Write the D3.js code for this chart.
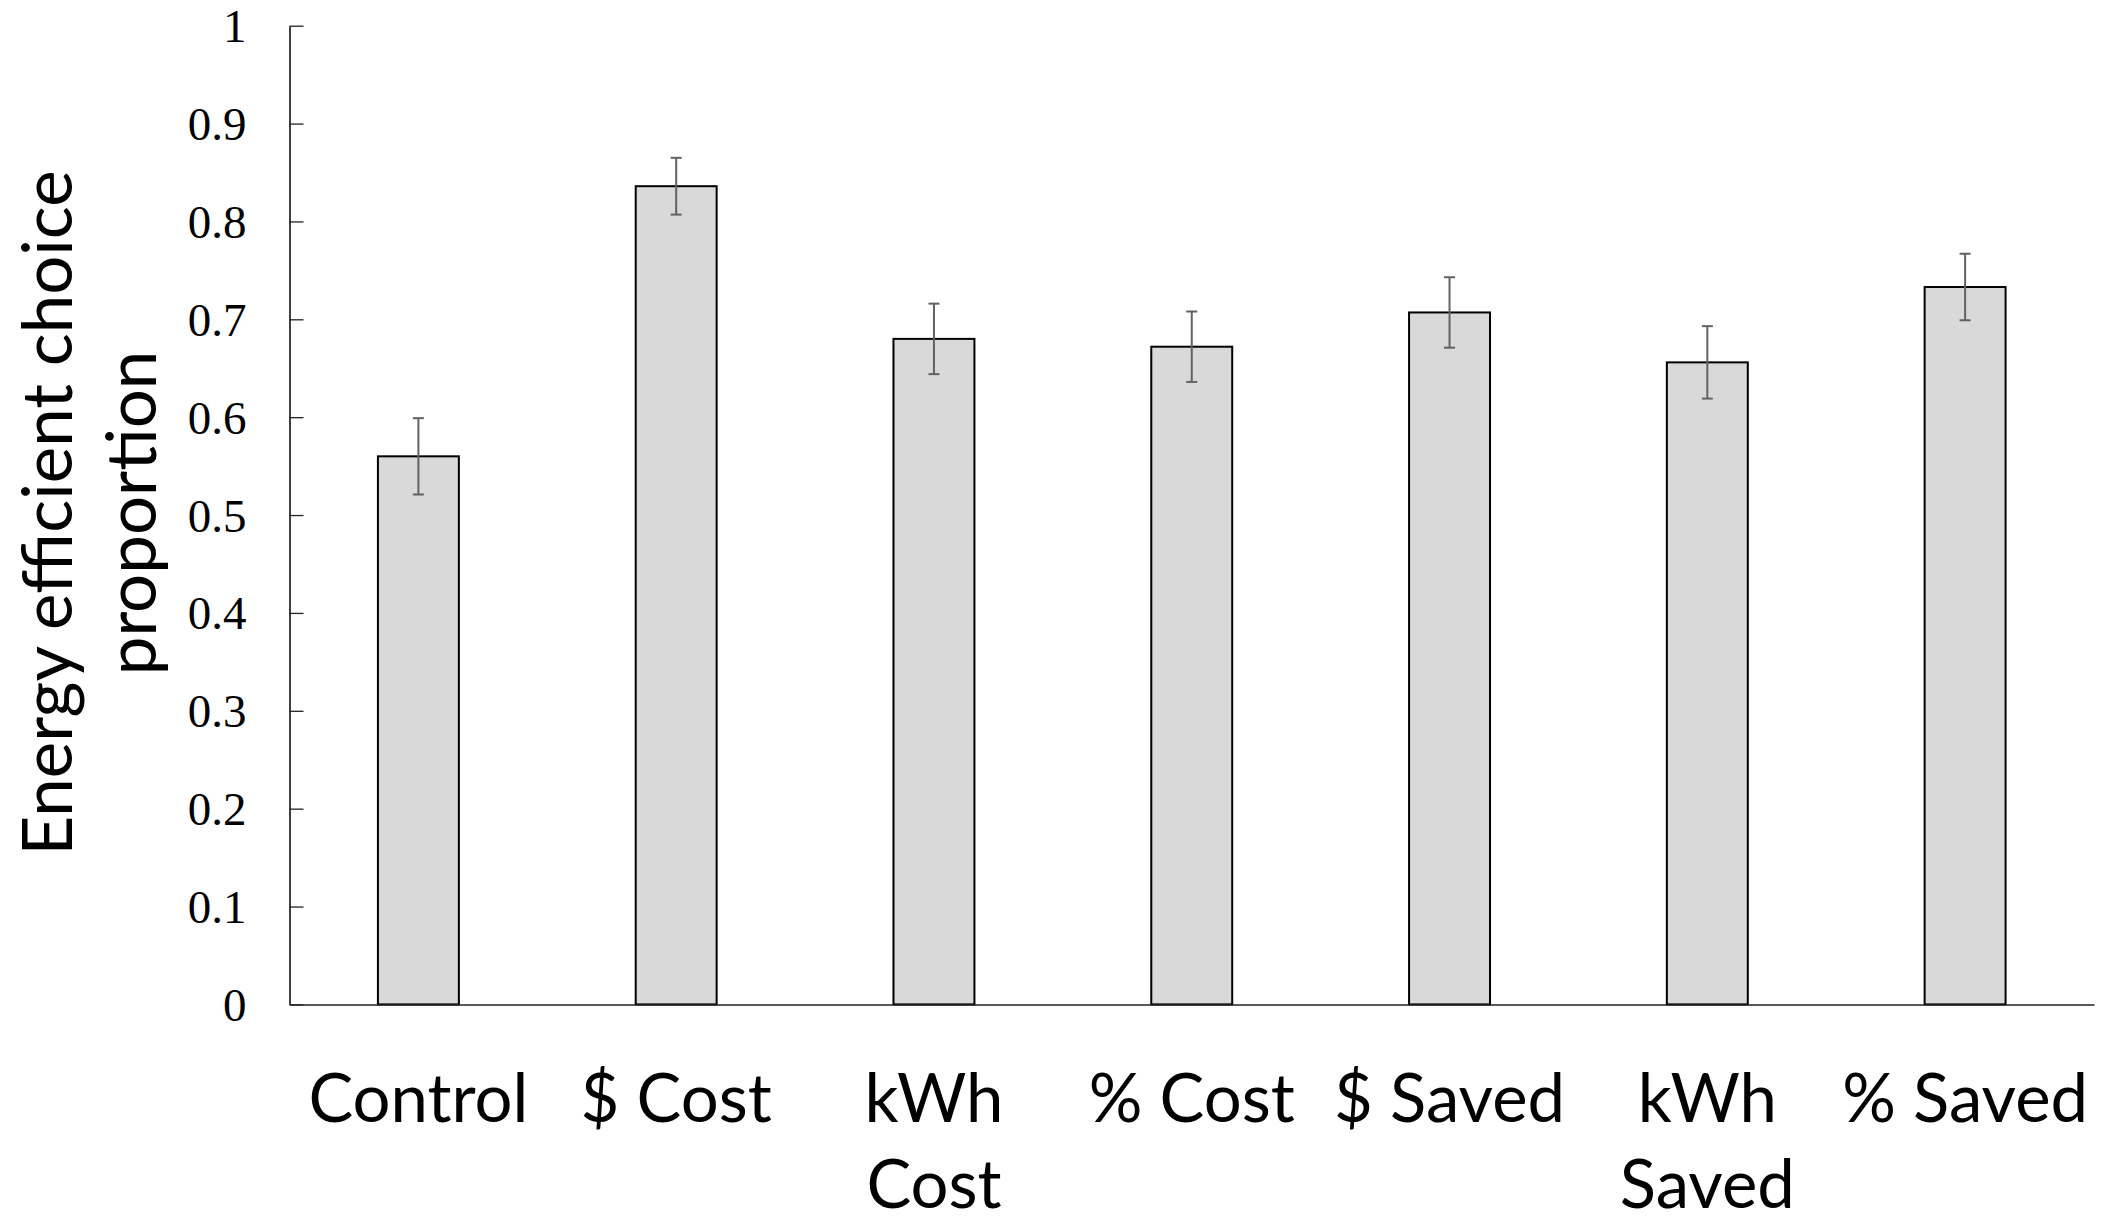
<!DOCTYPE html>
<html>
<head>
<meta charset="utf-8">
<script src="https://cdn.jsdelivr.net/npm/d3@7"></script>
<style>
  html, body { margin: 0; padding: 0; background: #fff; }
  svg { display: block; }
</style>
</head>
<body>
<script>
// ---- data ----
const categories = ["Control", "$ Cost", "kWh Cost", "% Cost", "$ Saved", "kWh Saved", "% Saved"];
const categoryLabelLines = [["Control"], ["$ Cost"], ["kWh", "Cost"], ["% Cost"], ["$ Saved"], ["kWh", "Saved"], ["% Saved"]];
const proportions = [0.560, 0.836, 0.680, 0.672, 0.707, 0.656, 0.733];
const errors = [0.039, 0.029, 0.036, 0.036, 0.036, 0.037, 0.034];
const yTicks = [0, 0.1, 0.2, 0.3, 0.4, 0.5, 0.6, 0.7, 0.8, 0.9, 1];
const yTitleLines = ["Energy efficient choice", "proportion"];

// ---- layout ----
const W = 2108, H = 1219;
const x0 = 289.5, x1 = 2094, yTop = 25.7, yBase = 1004.4;

const svg = d3.select("body").append("svg").attr("width", W).attr("height", H);

const x = d3.scaleBand().domain(categories).range([x0, x1])
  .paddingInner(0.686).paddingOuter(0.343);
const y = d3.scaleLinear().domain([0, 1]).range([yBase, yTop]);

// bars
svg.append("g").selectAll("rect").data(categories).join("rect")
  .attr("x", d => x(d))
  .attr("y", (d, i) => y(proportions[i]))
  .attr("width", x.bandwidth())
  .attr("height", (d, i) => y(0) - y(proportions[i]))
  .attr("fill", "#d9d9d9")
  .attr("stroke", "#000")
  .attr("stroke-width", 2);

// error bars
const eg = svg.append("g").attr("stroke", "#626262").attr("stroke-width", 2).attr("fill", "none");
categories.forEach((c, i) => {
  const cx = x(c) + x.bandwidth() / 2;
  const hi = y(proportions[i] + errors[i]);
  const lo = y(proportions[i] - errors[i]);
  eg.append("line").attr("x1", cx).attr("x2", cx).attr("y1", hi).attr("y2", lo);
  eg.append("line").attr("x1", cx - 5.5).attr("x2", cx + 5.5).attr("y1", hi).attr("y2", hi);
  eg.append("line").attr("x1", cx - 5.5).attr("x2", cx + 5.5).attr("y1", lo).attr("y2", lo);
});

// y axis
const yAxis = d3.axisLeft(y).tickValues(yTicks).tickFormat(d3.format("~g"))
  .tickSizeInner(-14).tickSizeOuter(0).tickPadding(43);
const ya = svg.append("g").attr("transform", `translate(${x0},0)`).call(yAxis);
ya.select(".domain").attr("stroke", "#000").attr("stroke-width", 1.5);
ya.selectAll(".tick line").attr("stroke", "#222").attr("stroke-width", 1.3);
ya.selectAll(".tick text")
  .attr("font-family", "'Liberation Serif', 'Times New Roman', serif")
  .attr("font-size", 47)
  .attr("fill", "#000")
  .attr("dy", "0.34em");

// x axis line
const xAxis = d3.axisBottom(x).tickSize(0).tickFormat("");
const xa = svg.append("g").attr("transform", `translate(0,${yBase})`).call(xAxis);
xa.select(".domain").attr("stroke", "#222").attr("stroke-width", 1.5);
xa.selectAll(".tick").remove();

// x labels
const lg = svg.append("g")
  .attr("font-family", "Lato, 'Open Sans', sans-serif")
  .attr("font-size", 67)
  .attr("fill", "#000")
  .attr("text-anchor", "middle");
categories.forEach((c, i) => {
  const t = lg.append("text").attr("x", x(c) + x.bandwidth() / 2).attr("y", 1122);
  categoryLabelLines[i].forEach((line, j) => {
    t.append("tspan").attr("x", x(c) + x.bandwidth() / 2).attr("dy", j === 0 ? 0 : 86).text(line);
  });
});

// y title
const tg = svg.append("g")
  .attr("transform", "rotate(-90)")
  .attr("font-family", "Lato, 'Open Sans', sans-serif")
  .attr("font-size", 69)
  .attr("fill", "#000")
  .attr("text-anchor", "middle");
yTitleLines.forEach((line, j) => {
  tg.append("text").attr("x", -513).attr("y", 72 + j * 84).text(line);
});
</script>
</body>
</html>
